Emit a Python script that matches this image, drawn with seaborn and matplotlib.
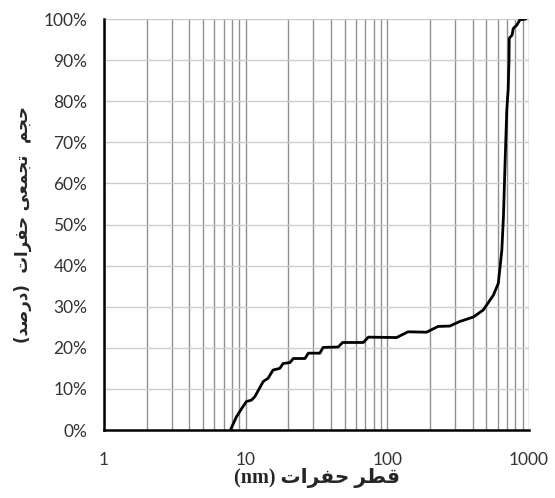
import numpy as np
import pandas as pd
import seaborn as sns
import matplotlib
matplotlib.use("Agg")
import matplotlib.pyplot as plt
from matplotlib.ticker import FixedLocator, FuncFormatter, NullFormatter

# pore diameter (nm) vs cumulative pore volume (%)
diam = [7.8, 8.6, 9.4, 10.1, 11.0, 11.6, 12.3, 13.3, 14.4, 15.6, 17.4, 18.4,
        20.5, 21.7, 26.2, 27.7, 33.4, 35.2, 45.0, 48.3, 67.6, 73.5, 116, 140,
        189, 228, 276, 324, 405, 475, 560, 607, 643, 660, 676, 697, 713, 722,
        725, 759, 774, 819, 862, 950]
cumvol = [0, 3.2, 5.3, 6.9, 7.3, 8.1, 9.7, 11.8, 12.6, 14.6, 15.0, 16.2,
          16.4, 17.4, 17.4, 18.7, 18.7, 20.1, 20.2, 21.3, 21.3, 22.6, 22.5, 23.9,
          23.8, 25.2, 25.3, 26.4, 27.5, 29.2, 32.8, 35.7, 43.8, 52.0, 64.0, 78.0,
          83.0, 90.0, 95.3, 96.1, 97.7, 98.5, 99.8, 100]

xticks = [1, 10, 100, 1000]
yticks = list(range(0, 101, 10))

# persian labels, written in shaped presentation forms, visual order
hofrat = "\uFE95\uFE8D\uFEAE\uFED4\uFEA3"
qotr = "\uFEAE\uFEC4\uFED7"
darsad = "(\uFEAA\uFEBB\uFEAD\uFEA9)"
tajamoi = "\uFEF0\uFECC\uFEE4\uFEA0\uFE97"
hajm = "\uFEE2\uFEA0\uFEA3"
xlab = "(nm) " + hofrat + " " + qotr
ylab = darsad + "  " + hofrat + " " + tajamoi + "  " + hajm

sns.set_style("white")
plt.rcParams['font.family'] = ['Lato', 'DejaVu Sans']

df = pd.DataFrame({"d": diam, "v": cumvol})

fig = plt.figure(figsize=(5.55, 4.98), dpi=100)
ax = fig.add_axes([0.1874, 0.1365, 0.7658, 0.8253])

sns.lineplot(data=df, x="d", y="v", sort=False, color="black", lw=2.0, ax=ax, zorder=5)

ax.set_xscale("log")
ax.set_xlim(1, 1000)
ax.set_ylim(0, 100)

minor = [m * 10 ** e for e in range(3) for m in range(2, 10)]
ax.xaxis.set_major_locator(FixedLocator(xticks))
ax.xaxis.set_minor_locator(FixedLocator(minor))
ax.xaxis.set_major_formatter(FuncFormatter(lambda v, p: f"{v:g}"))
ax.xaxis.set_minor_formatter(NullFormatter())
ax.set_yticks(yticks)
ax.yaxis.set_major_formatter(FuncFormatter(lambda v, p: f"{v:.0f}%"))

ax.grid(True, axis="x", which="both", color="#8f8f8f", lw=1.0)
ax.grid(True, axis="y", which="major", color="#cccccc", lw=1.0)
ax.set_axisbelow(True)

for s in ["top", "right"]:
    ax.spines[s].set_visible(False)
for s in ["left", "bottom"]:
    ax.spines[s].set_color("black")
    ax.spines[s].set_linewidth(1.8)

ax.tick_params(axis="x", which="major", direction="inout", length=7, width=1.5,
               color="black", labelsize=12.5, labelcolor="#333333", pad=12)
ax.tick_params(axis="x", which="minor", length=0)
ax.tick_params(axis="y", which="major", direction="out", length=4, width=1.5,
               color="black", labelsize=12.5, labelcolor="#333333", pad=8)

ax.set_xlabel(xlab, fontsize=14.5, fontweight="bold",
              family=["Liberation Serif", "DejaVu Sans"], labelpad=0)
ax.set_ylabel(ylab, fontsize=12, fontweight="bold", family=["DejaVu Sans"], labelpad=8)

fig.savefig("out.png", dpi=100)
